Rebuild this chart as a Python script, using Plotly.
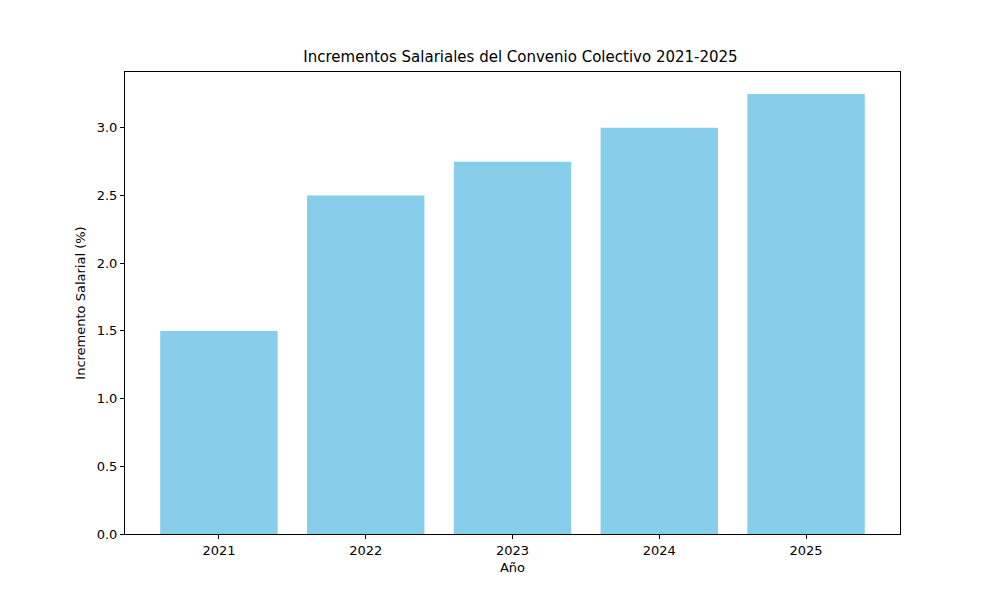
import plotly.graph_objects as go

years = ["2021", "2022", "2023", "2024", "2025"]
increments = [1.5, 2.5, 2.75, 3.0, 3.25]

fig = go.Figure(go.Bar(x=list(range(len(years))), y=increments, width=0.8,
                       marker=dict(color="skyblue", line=dict(width=0))))
fig.update_layout(
    width=1000, height=600, plot_bgcolor="white", paper_bgcolor="white",
    margin=dict(l=117, r=108, t=64, b=74),
    font=dict(family="DejaVu Sans", size=13, color="black"),
    title=dict(text="Incrementos Salariales del Convenio Colectivo 2021-2025",
               x=0.5125, xanchor="center", y=0.91, yanchor="bottom", font=dict(size=15)),
    showlegend=False,
)
fig.update_xaxes(range=[-0.64, 4.64], tickvals=list(range(len(years))), ticktext=years,
                 title=dict(text="Año", standoff=6, font=dict(size=13)), showgrid=False,
                 zeroline=False, showline=True, linecolor="black", mirror=True,
                 ticks="outside", ticklen=4, tickcolor="black")
fig.update_yaxes(range=[0, 3.4125], tickvals=[0, 0.5, 1, 1.5, 2, 2.5, 3],
                 tickformat=".1f",
                 title=dict(text="Incremento Salarial (%)", standoff=8, font=dict(size=13)),
                 showgrid=False, zeroline=False, showline=True, linecolor="black",
                 mirror=True, ticks="outside", ticklen=4, tickcolor="black")
fig.write_html("out.html")
